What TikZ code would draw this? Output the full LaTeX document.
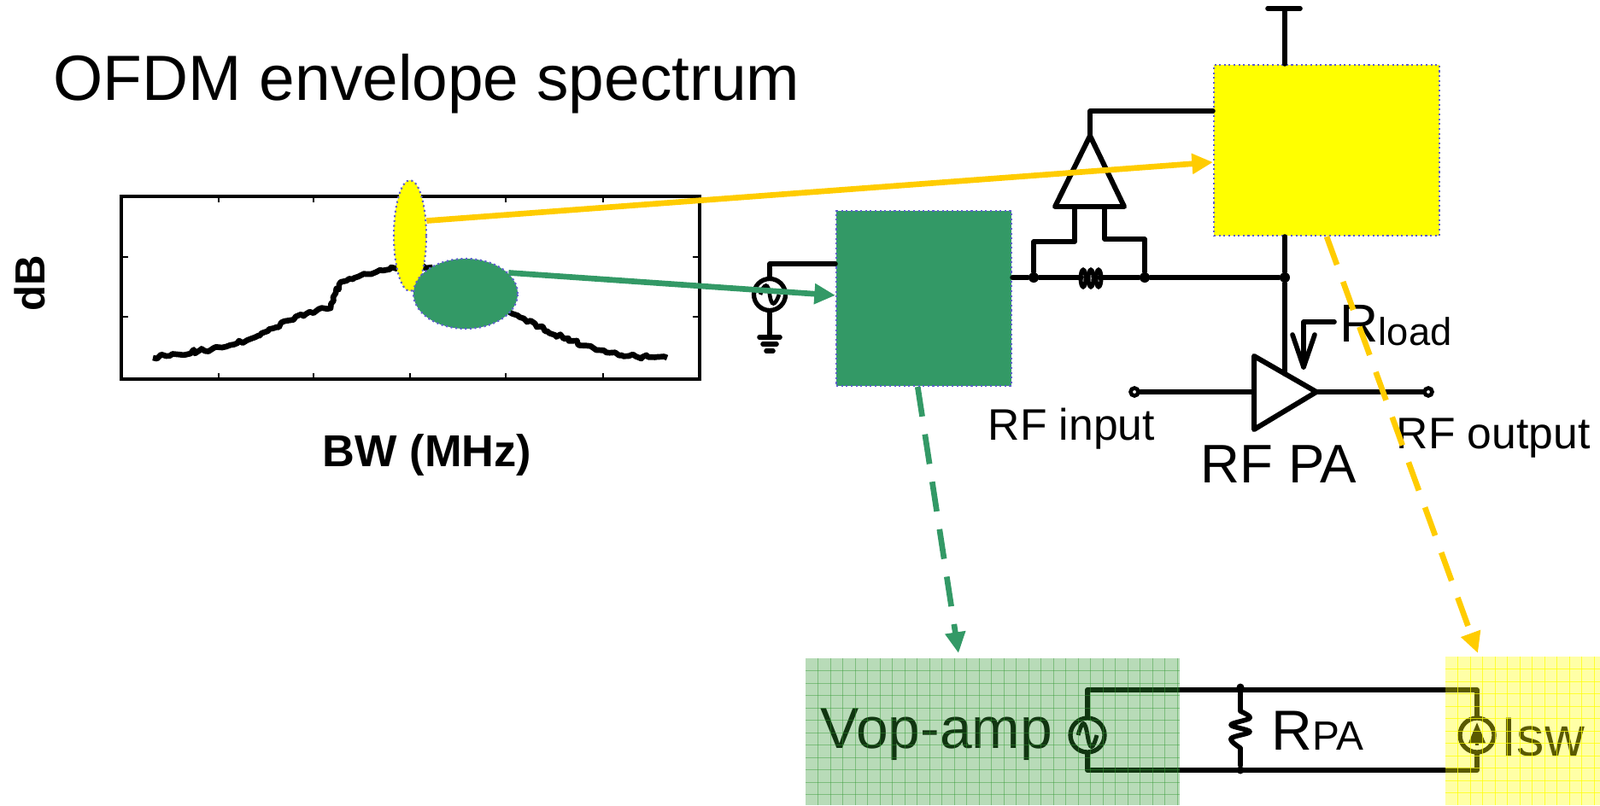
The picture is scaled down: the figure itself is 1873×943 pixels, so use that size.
\documentclass[tikz,border=0pt]{standalone}
\usepackage{fontspec}
\setmainfont{Liberation Sans}
\usetikzlibrary{arrows.meta,shapes.geometric,decorations.pathmorphing}
\definecolor{boxgreen}{RGB}{51,153,102}
\definecolor{panelgreen}{RGB}{51,153,51}
\definecolor{arrowgold}{RGB}{255,204,0}
\definecolor{dotblue}{RGB}{95,95,205}
\definecolor{boxyellow}{RGB}{255,255,0}
\tikzset{
	wire/.style={line width=1.6pt,line cap=round,line join=round},
	wiredot/.style={circle,fill=black,inner sep=0pt,minimum size=1.2mm},
	pindot/.style={circle,draw=black,fill=white,line width=1.3pt,inner sep=0pt,minimum size=0.9mm},
	source/.style={circle,draw=black,line width=1.5pt,inner sep=0pt,minimum size=3.7mm},
	label/.style={anchor=base west,inner sep=0pt},
	noisy/.style={line width=1.9pt,line join=round,decorate,decoration={random steps,segment length=1.2pt,amplitude=0.7pt}},
	solidgold/.style={draw=arrowgold,line width=1.9pt,-{Triangle[length=7pt,width=6.5pt]}},
	solidgreen/.style={draw=boxgreen,line width=1.9pt,-{Triangle[length=7pt,width=6.5pt]}},
	dashgold/.style={solidgold,dash pattern=on 10pt off 6pt},
	dashgreen/.style={solidgreen,dash pattern=on 10pt off 6pt},
	bluedots/.style={draw=dotblue,line width=0.6pt,densely dotted,inner sep=0pt}
}
\begin{document}
\begin{tikzpicture}[x=0.1mm,y=-0.1mm]
	\useasboundingbox (0,0) rectangle (1873,943);
	
	\coordinate (vddtop) at (1504,10);
	\coordinate (vddL) at (1484,10);
	\coordinate (vddR) at (1522,10);
	\coordinate (opapex) at (1276,159);
	\coordinate (opL) at (1235,242);
	\coordinate (opR) at (1316,242);
	\coordinate (optop) at (1276,130);
	\coordinate (srctop) at (901,309);
	\coordinate (ampT) at (1468,417);
	\coordinate (ampB) at (1468,503);
	\coordinate (ampO) at (1541,459);
	\coordinate (ampI) at (1468,459);
	\coordinate (ampV) at (1504,438);
	\coordinate (tipG) at (1122,765);
	\coordinate (tipY) at (1730,765);
	
	%Drawing the spectrum plot
	\draw[line width=1.1pt] (142,230) rectangle (819,444);
	\foreach \x in {256,367,480,592,706}{
		\draw[line width=0.8pt] (\x,230)--(\x,237);
		\draw[line width=0.8pt] (\x,444)--(\x,437);
	}
	\foreach \y in {301,371}{
		\draw[line width=0.8pt] (142,\y)--(150,\y);
		\draw[line width=0.8pt] (819,\y)--(811,\y);
	}
	\draw[noisy] (179,419)--(260,407)--(293,397)--(340,375)--(373,362)--(387,361)--(390,348)--(397,333)--(413,327)--(458,313)--(507,312);
	\draw[noisy] (590,362)--(641,388)--(698,410)--(736,417)--(781,419);
	
	\node[ellipse,bluedots,fill=boxyellow,minimum width=3.8mm,minimum height=13mm] (ellY) at (480,276) {};
	\node[ellipse,bluedots,fill=boxgreen,minimum width=12.2mm,minimum height=8.2mm] (ellG) at (545,344) {};
	
	\node[rotate=90,inner sep=0pt,font=\fontsize{14}{17}\selectfont\bfseries] (dbtext) at (35,332) {dB};
	\node[inner sep=0pt,font=\fontsize{14.9}{17}\selectfont\bfseries] (bwtext) at (500,533) {BW (MHz)};
	\node[label,font=\fontsize{21.3}{25}\selectfont] (title) at (62,117) {OFDM envelope spectrum};
	
	%Drawing the two blocks
	\node[rectangle,bluedots,fill=boxgreen,minimum width=20.5mm,minimum height=20.5mm] (boxG) at (1081.5,349.5) {};
	\node[rectangle,bluedots,fill=boxyellow,minimum width=26.4mm,minimum height=20mm] (boxY) at (1553,176) {};
	
	%Drawing the supply and the wires
	\draw[wire] (vddL)--(vddR);
	\draw[wire] (vddtop)--(vddtop|-boxY.north);
	\draw[wire] (optop-|boxY.west)--(optop)--(opapex);
	\draw[wire,line width=1.7pt] (opapex)--(opL)--(opR)--cycle;
	
	\node[wiredot] (dotA) at (1210,325) {};
	\node[wiredot] (dotB) at (1340,325) {};
	\node[wiredot] (dotC) at (1504,325) {};
	\draw[wire] (boxG.east|-dotA)--(dotA)--(1266,325);
	\draw[wire] (1287,325)--(dotB)--(dotC);
	\foreach \x in {1268,1277,1286}{
		\draw[line width=1.4pt] (\x,326) ellipse (3 and 10);
	}
	\draw[wire] (1258,242)--(1258,283)--(1210,283)--(dotA);
	\draw[wire] (1293,242)--(1293,280)--(1340,280)--(dotB);
	\draw[wire] (boxY.south-|dotC)--(dotC)--(ampV);
	
	\node[source] (srcA) at (901,345) {};
	\draw[line width=1.3pt] (890,345) .. controls (895,331) and (899,331) .. (901,345) .. controls (903,359) and (907,359) .. (912,345);
	\draw[wire] (srcA.north)--(srctop)--(srctop-|boxG.west);
	\coordinate (gnd1) at (901,395);
	\draw[wire] (srcA.south)--(gnd1);
	\draw[wire] (889,395)--(913,395);
	\draw[wire] (893,403)--(909,403);
	\draw[wire] (897,411)--(905,411);
	
	%Drawing the RF PA
	\draw[wire,line width=1.7pt] (ampT)--(ampO)--(ampB)--cycle;
	\node[pindot] (rfin) at (1328,459) {};
	\node[pindot] (rfout) at (1672,459) {};
	\draw[wire] (rfin)--(ampI);
	\draw[wire] (ampO)--(rfout);
	\coordinate (loadA) at (1562,377);
	\coordinate (loadB) at (1526,377);
	\coordinate (loadC) at (1526,430);
	\draw[wire] (loadA)--(loadB)--(loadC);
	\draw[wire] (1513,392)--(loadC)--(1539,392);
	
	\node[label,font=\fontsize{17.8}{20}\selectfont] (rload) at (1568,400) {R\raisebox{-1.2pt}{\fontsize{12.9}{15}\selectfont load}};
	\node[label,font=\fontsize{14.7}{17}\selectfont] (rfintext) at (1156,515) {RF input};
	\node[label,font=\fontsize{14.7}{17}\selectfont] (rfouttext) at (1634,525) {RF output};
	\node[label,font=\fontsize{18.1}{20}\selectfont] (patext) at (1405,565) {RF PA};
	
	%Drawing the arrows
	\draw[solidgold] (ellY.42)--(boxY.186.5);
	\draw[solidgreen] (ellG.26)--(boxG.178);
	\draw[dashgreen] (boxG.-94)--(tipG);
	\draw[dashgold] (boxY.south)--(tipY);
	
	%Drawing the equivalent circuit
	\node[source,minimum size=4mm] (srcV) at (1273,861) {};
	\node[source,minimum size=4mm] (srcI) at (1729,861) {};
	\draw[line width=1.4pt] (1262,861) .. controls (1267,843) and (1270,843) .. (1273,861) .. controls (1276,879) and (1279,879) .. (1284,861);
	\draw[line width=1pt,-{Triangle[length=7pt,width=5.5pt]}] (1729,873)--(1729,846);
	\node[wiredot,minimum size=0.9mm] (dotT) at (1452,805) {};
	\node[wiredot,minimum size=0.9mm] (dotD) at (1452,902) {};
	\coordinate (cornTL) at (1273,808);
	\coordinate (cornTR) at (1729,808);
	\coordinate (cornBL) at (1273,902);
	\coordinate (cornBR) at (1729,902);
	\draw[wire,line width=1.7pt] (srcV.north)--(cornTL)--(cornTR)--(srcI.north);
	\draw[wire,line width=1.7pt] (srcV.south)--(cornBL)--(cornBR)--(srcI.south);
	\draw[wire] (dotT)--(1452,833) plot[smooth,tension=0.6] coordinates {(1452,833)(1463,841)(1441,849)(1463,857)(1441,865)(1452,876)} (1452,876)--(dotD);
	
	\node[label,font=\fontsize{19.3}{22}\selectfont] (vtext) at (960,876) {Vop-amp};
	\node[label,font=\fontsize{18.8}{22}\selectfont] (rpatext) at (1488,878) {R\fontsize{13.6}{15}\selectfont PA};
	\node[label,font=\fontsize{18.4}{22}\selectfont] (iswtext) at (1757,885) {Isw};
	
	%Drawing the two panels on top
	\fill[panelgreen,opacity=0.35] (943,771) rectangle (1381,943);
	\fill[boxyellow,opacity=0.35] (1692,769) rectangle (1873,943);
	\foreach \x in {1,...,30}{
		\draw[panelgreen,line width=0.25pt,opacity=0.45] (943+\x*14.5,771)--(943+\x*14.5,943);
	}
	\foreach \y in {1,...,11}{
		\draw[panelgreen,line width=0.25pt,opacity=0.45] (943,771+\y*14.5)--(1381,771+\y*14.5);
	}
	\foreach \x in {1,...,12}{
		\draw[boxyellow,line width=0.25pt,opacity=0.7] (1692+\x*14.5,769)--(1692+\x*14.5,943);
	}
	\foreach \y in {1,...,11}{
		\draw[boxyellow,line width=0.25pt,opacity=0.7] (1692,769+\y*14.5)--(1873,769+\y*14.5);
	}
\end{tikzpicture}
\end{document}
